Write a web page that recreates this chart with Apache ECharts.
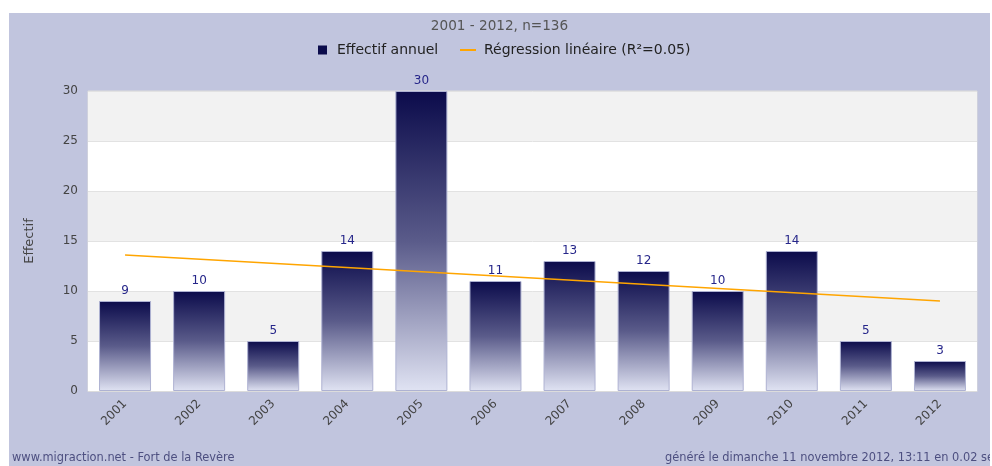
<!DOCTYPE html>
<html>
<head>
<meta charset="utf-8">
<script src="https://cdn.jsdelivr.net/npm/echarts@6/dist/echarts.min.js"></script>
<style>
  html, body { margin: 0; padding: 0; background: #fff; }
  #main { position: absolute; left: 9px; top: 13px; width: 981px; height: 453px; }
</style>
</head>
<body>
<div id="main"></div>
<script>
// values
var years = ['2001', '2002', '2003', '2004', '2005', '2006', '2007', '2008', '2009', '2010', '2011', '2012'];
var counts = [9, 10, 5, 14, 30, 11, 13, 12, 10, 14, 5, 3];
// regression line: only its two ends are drawn, joined straight
var regression = [13.6, null, null, null, null, null, null, null, null, null, null, 9.0];
var yTicks = [0, 5, 10, 15, 20, 25, 30];

var font = 'DejaVu Sans';
var myChart = echarts.init(document.getElementById('main'));

myChart.setOption({
    backgroundColor: '#c1c5de',
    textStyle: { fontFamily: font },
    title: {
        text: '2001 - 2012, n=136',
        left: 'center',
        top: 6,
        padding: 0,
        textStyle: { color: '#555', fontSize: 13.6, fontWeight: 'normal', fontFamily: font }
    },
    legend: [{
        left: 309,
        top: 30,
        padding: 0,
        itemWidth: 9,
        itemHeight: 9,
        icon: 'rect',
        textStyle: { color: '#222', fontSize: 14, fontFamily: font, padding: [0, 0, 0, 5] },
        data: [{ name: 'Effectif annuel', itemStyle: { color: '#0b0b4b', borderWidth: 0 } }]
    }, {
        left: 451,
        top: 30,
        padding: 0,
        itemWidth: 16,
        itemHeight: 2,
        icon: 'rect',
        textStyle: { color: '#222', fontSize: 14, fontFamily: font, padding: [0, 0, 0, 3] },
        data: [{ name: 'Régression linéaire (R²=0.05)', itemStyle: { color: '#ffa500' } }]
    }],
    grid: {
        left: 79,
        top: 78,
        width: 889,
        height: 300,
        show: true,
        borderColor: '#dcdcdc',
        backgroundColor: 'transparent'
    },
    xAxis: {
        type: 'category',
        data: years,
        axisLine: { lineStyle: { color: '#dcdcdc' } },
        axisTick: { show: false },
        axisLabel: { rotate: 45, margin: 11, color: '#444', fontSize: 12, fontFamily: font }
    },
    yAxis: {
        type: 'value',
        min: yTicks[0],
        max: yTicks[yTicks.length - 1],
        interval: 5,
        name: 'Effectif',
        nameLocation: 'middle',
        nameRotate: 90,
        nameGap: 52,
        nameTextStyle: { color: '#444', fontSize: 13, fontFamily: font },
        axisLine: { show: false },
        axisTick: { show: false },
        axisLabel: { color: '#444', fontSize: 12, fontFamily: font, margin: 10 },
        splitLine: { lineStyle: { color: '#e2e2e2' } },
        splitArea: { show: true, areaStyle: { color: ['#ffffff', '#f2f2f2'] } }
    },
    series: [{
        name: 'Effectif annuel',
        type: 'bar',
        data: counts,
        barWidth: 52,
        itemStyle: {
            borderColor: '#aeb2d2',
            borderWidth: 1,
            color: new echarts.graphic.LinearGradient(0, 0, 0, 1, [
                { offset: 0, color: '#0b0b4b' },
                { offset: 0.5, color: '#5a5b8a' },
                { offset: 1, color: '#e0e3f3' }
            ])
        },
        label: {
            show: true,
            position: 'top',
            distance: 4,
            color: '#26268a',
            fontSize: 12,
            fontFamily: font
        }
    }, {
        name: 'Régression linéaire (R²=0.05)',
        type: 'line',
        data: regression,
        connectNulls: true,
        symbol: 'none',
        lineStyle: { color: '#ffa500', width: 1.5 },
        itemStyle: { color: '#ffa500' },
        z: 3
    }],
    graphic: [{
        type: 'text',
        left: 3,
        top: 440,
        style: { text: 'www.migraction.net - Fort de la Revère', fill: '#4d4f80', font: '11.4px "DejaVu Sans"' }
    }, {
        type: 'text',
        left: 656,
        top: 440,
        style: { text: 'généré le dimanche 11 novembre 2012, 13:11 en 0.02 sec', fill: '#4d4f80', font: '11.4px "DejaVu Sans"' }
    }]
});
</script>
</body>
</html>
